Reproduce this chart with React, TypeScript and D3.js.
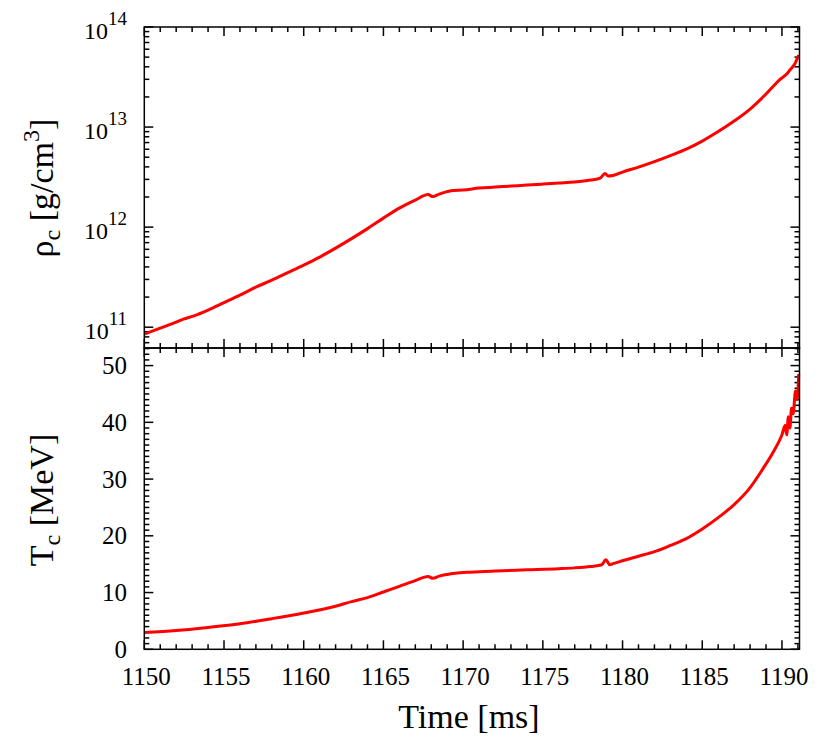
import React, { useEffect, useRef } from 'react';
import * as d3 from 'd3';

// central density, log10(rho_c [g/cm^3])
const rhoTime = [1150, 1151, 1152, 1152.45, 1153.07, 1154, 1155, 1156, 1157, 1158, 1159, 1160, 1161, 1162, 1163, 1164, 1165, 1166, 1167, 1167.8, 1168.1, 1168.5, 1169, 1169.4, 1170, 1171, 1172, 1173, 1174, 1175, 1176, 1177, 1178, 1178.6, 1178.9, 1179.1, 1179.4, 1180, 1181, 1182, 1183, 1184, 1185, 1186, 1187, 1188, 1189, 1189.9, 1190.3, 1190.5, 1190.8, 1191.05];
const rhoLog = [10.93, 10.99, 11.05, 11.08, 11.11, 11.17, 11.245, 11.32, 11.4, 11.47, 11.545, 11.62, 11.7, 11.79, 11.885, 11.985, 12.09, 12.19, 12.27, 12.325, 12.305, 12.33, 12.355, 12.367, 12.37, 12.39, 12.4, 12.41, 12.42, 12.43, 12.44, 12.45, 12.47, 12.49, 12.535, 12.51, 12.515, 12.55, 12.6, 12.655, 12.715, 12.78, 12.86, 12.955, 13.06, 13.18, 13.33, 13.48, 13.53, 13.57, 13.63, 13.72];

// central temperature [MeV]
const tempTime = [1150, 1152, 1154, 1156, 1158, 1160, 1162, 1163, 1164, 1165, 1166, 1167, 1167.8, 1168.1, 1168.5, 1169, 1169.5, 1170.5, 1172, 1174, 1176, 1177, 1178, 1178.7, 1178.95, 1179.2, 1179.4, 1180, 1181, 1182, 1183, 1184, 1185, 1186, 1187, 1188, 1188.8, 1189.5, 1190, 1190.2, 1190.3, 1190.4, 1190.5, 1190.6, 1190.7, 1190.85, 1190.95, 1191.05];
const tempVal = [2.95, 3.3, 3.85, 4.5, 5.4, 6.4, 7.6, 8.4, 9.1, 10.1, 11.1, 12.1, 12.85, 12.5, 12.9, 13.2, 13.4, 13.6, 13.8, 14.0, 14.2, 14.35, 14.6, 14.9, 15.8, 14.9, 15.1, 15.6, 16.4, 17.2, 18.3, 19.5, 21.2, 23.2, 25.5, 28.5, 31.8, 35.0, 37.8, 39.5, 37.8, 41.0, 39.0, 42.5, 41.5, 45.5, 44.0, 48.5];

const timeTicks = [1150, 1155, 1160, 1165, 1170, 1175, 1180, 1185, 1190];
const rhoExponents = [11, 12, 13, 14];
const tempTicks = [0, 10, 20, 30, 40, 50];

const FONT = '"Liberation Serif", "DejaVu Serif", serif';

export default function App() {
  const ref = useRef<SVGSVGElement>(null);

  useEffect(() => {
    const svg = d3.select(ref.current);
    svg.selectAll('*').remove();

    const left = 144.3, right = 799.5, top = 27, mid = 348, bottom = 649.3;

    const x = d3.scaleLinear().domain([1150, 1191.1]).range([left, right]);
    const yRho = d3.scaleLog().domain([Math.pow(10, 10.792), 1e14]).range([mid, top]);
    const yT = d3.scaleLinear().domain([0, 53.1]).range([bottom, mid]);

    const g = svg.append('g');

    // ticks along the time axis, on both edges of both panels
    const minorTimes = d3.range(1150, 1192, 1).filter(v => v % 5 !== 0);
    [top, mid, bottom].forEach(edge => {
      const dirs = edge === top ? [1] : edge === bottom ? [-1] : [1, -1];
      dirs.forEach(dir => {
        timeTicks.forEach(t => {
          g.append('line').attr('x1', x(t)).attr('x2', x(t))
            .attr('y1', edge).attr('y2', edge + dir * 9)
            .attr('stroke', '#000').attr('stroke-width', 1.5);
        });
        minorTimes.forEach(t => {
          g.append('line').attr('x1', x(t)).attr('x2', x(t))
            .attr('y1', edge).attr('y2', edge + dir * 5)
            .attr('stroke', '#000').attr('stroke-width', 1.5);
        });
      });
    });

    // log ticks, top panel
    const [lo, hi] = yRho.domain();
    const rhoMinor: number[] = [];
    d3.range(10, 14).forEach(e => {
      d3.range(2, 10).forEach(m => {
        const v = m * Math.pow(10, e);
        if (v > lo && v < hi) rhoMinor.push(v);
      });
    });
    [left, right].forEach(edge => {
      const dir = edge === left ? 1 : -1;
      rhoExponents.forEach(e => {
        const yy = yRho(Math.pow(10, e));
        g.append('line').attr('x1', edge).attr('x2', edge + dir * 9)
          .attr('y1', yy).attr('y2', yy).attr('stroke', '#000').attr('stroke-width', 1.5);
      });
      rhoMinor.forEach(v => {
        const yy = yRho(v);
        g.append('line').attr('x1', edge).attr('x2', edge + dir * 5)
          .attr('y1', yy).attr('y2', yy).attr('stroke', '#000').attr('stroke-width', 1.5);
      });
    });

    // linear ticks, bottom panel
    [left, right].forEach(edge => {
      const dir = edge === left ? 1 : -1;
      d3.range(0, 54, 1).forEach(v => {
        const yy = yT(v);
        const len = v % 10 === 0 ? 9 : 5;
        g.append('line').attr('x1', edge).attr('x2', edge + dir * len)
          .attr('y1', yy).attr('y2', yy).attr('stroke', '#000').attr('stroke-width', 1.5);
      });
    });

    // curves
    const rhoLine = d3.line<number>()
      .x((d, i) => x(rhoTime[i]))
      .y(d => yRho(Math.pow(10, d)))
      .curve(d3.curveMonotoneX);
    g.append('path').datum(rhoLog).attr('d', rhoLine)
      .attr('fill', 'none').attr('stroke', '#ff0000').attr('stroke-width', 3)
      .attr('stroke-linejoin', 'round');

    const tLine = d3.line<number>()
      .x((d, i) => x(tempTime[i]))
      .y(d => yT(d))
      .curve(d3.curveMonotoneX);
    g.append('path').datum(tempVal).attr('d', tLine)
      .attr('fill', 'none').attr('stroke', '#ff0000').attr('stroke-width', 3)
      .attr('stroke-linejoin', 'round');

    // frames
    [[top, mid], [mid, bottom]].forEach(([y0, y1]) => {
      g.append('rect').attr('x', left).attr('y', y0)
        .attr('width', right - left).attr('height', y1 - y0)
        .attr('fill', 'none').attr('stroke', '#000').attr('stroke-width', 1.5);
    });

    // tick labels
    timeTicks.forEach(t => {
      g.append('text').attr('x', x(t) + 2).attr('y', 685)
        .attr('text-anchor', 'middle').attr('font-family', FONT).attr('font-size', 25)
        .text(t);
    });
    rhoExponents.forEach(e => {
      const yy = yRho(Math.pow(10, e));
      const txt = g.append('text').attr('x', 127).attr('y', yy + 11.6)
        .attr('text-anchor', 'end').attr('font-family', FONT).attr('font-size', 24);
      txt.append('tspan').text('10');
      txt.append('tspan').attr('dy', -14).attr('font-size', 19).text(e);
    });
    tempTicks.forEach(v => {
      g.append('text').attr('x', 127).attr('y', yT(v) + 8.5)
        .attr('text-anchor', 'end').attr('font-family', FONT).attr('font-size', 25)
        .text(v);
    });

    // axis titles
    g.append('text').attr('x', 469).attr('y', 728).attr('text-anchor', 'middle')
      .attr('font-family', FONT).attr('font-size', 34).text('Time [ms]');

    const rhoTitle = g.append('text')
      .attr('transform', 'translate(53,188) rotate(-90)')
      .attr('text-anchor', 'middle').attr('font-family', FONT).attr('font-size', 34);
    rhoTitle.append('tspan').text('ρ');
    rhoTitle.append('tspan').attr('dy', 7).attr('font-size', 24).text('c');
    rhoTitle.append('tspan').attr('dy', -7).text(' [g/cm');
    rhoTitle.append('tspan').attr('dy', -14).attr('font-size', 24).text('3');
    rhoTitle.append('tspan').attr('dy', 14).text(']');

    const tTitle = g.append('text')
      .attr('transform', 'translate(53,500) rotate(-90)')
      .attr('text-anchor', 'middle').attr('font-family', FONT).attr('font-size', 34);
    tTitle.append('tspan').text('T');
    tTitle.append('tspan').attr('dy', 7).attr('font-size', 24).text('c');
    tTitle.append('tspan').attr('dy', -7).text(' [MeV]');
  }, []);

  return (
    <svg ref={ref} width={830} height={749}
      style={{ position: 'absolute', left: 0, top: 0, background: '#fff' }} />
  );
}
